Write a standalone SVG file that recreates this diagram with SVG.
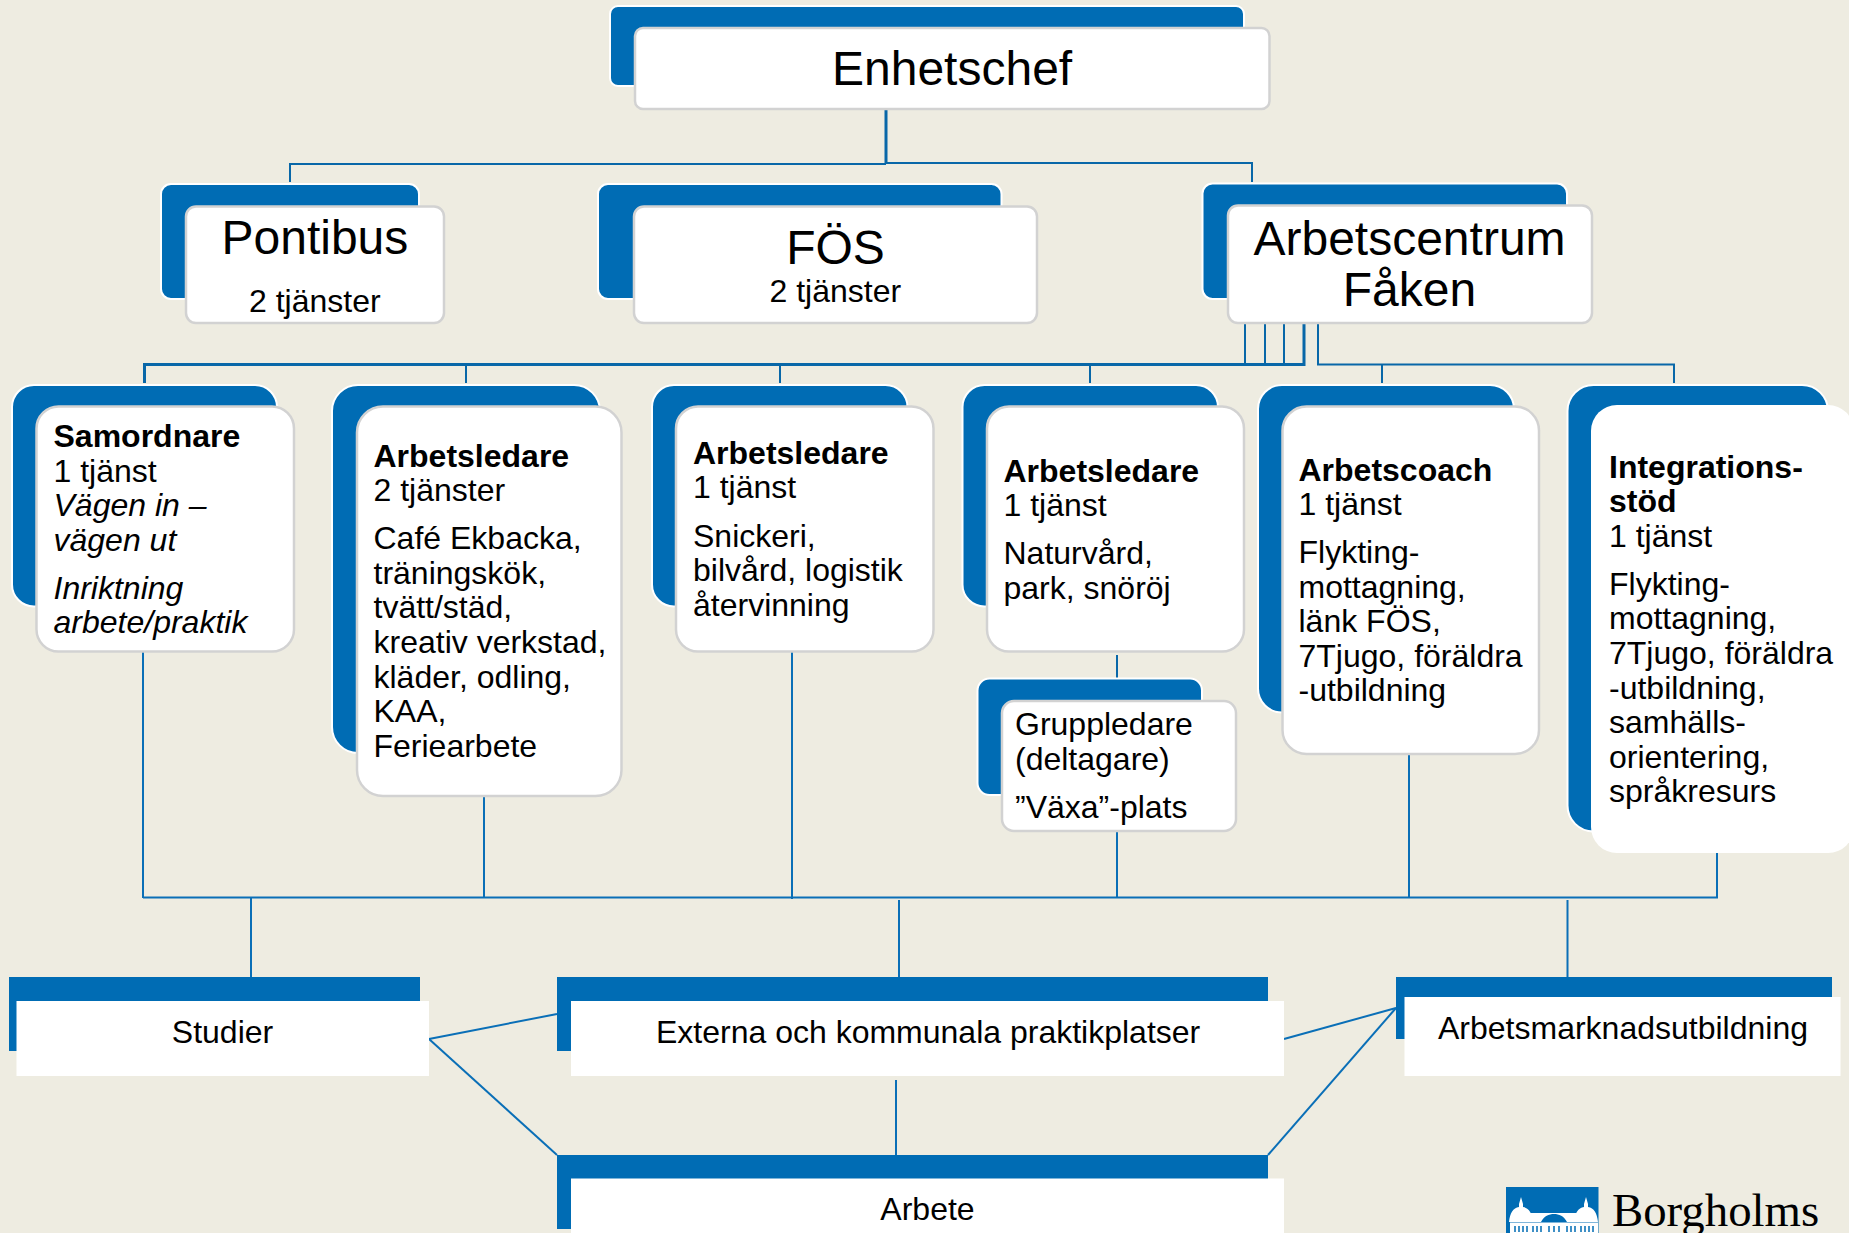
<svg xmlns="http://www.w3.org/2000/svg" width="1849" height="1233" viewBox="0 0 1849 1233">
<style>
text{font-family:"Liberation Sans",Arial,sans-serif;font-size:32px;fill:#000}
.big{font-size:48px}
.c{text-anchor:middle}
.b{font-weight:700}
.i{font-style:italic}
.back{fill:#006CB4;stroke:#fff;stroke-width:2}
.front{fill:#fff;stroke:#d2d2d2;stroke-width:2.5}
.sq{fill:#006CB4}
.sqw{fill:#fff}
#connectors line,#connectors polyline{stroke:#0867A8;stroke-width:2;fill:none}
#connectors .h{stroke-width:3}
#connectors .s{stroke:#0A6FB7;stroke-width:2}
.w{fill:#fff}
</style>
<rect width="1849" height="1233" fill="#EEECE1"/>
<g id="connectors">
<line class="h" x1="886" y1="109" x2="886" y2="164"/>
<polyline points="290,182 290,164 886,164"/>
<polyline points="886,163 1252,163 1252,182"/>
<polyline class="h" points="144.500,383 144.500,364.500 1304,364.500 1304,324"/>
<line x1="466" y1="364" x2="466" y2="383"/>
<line x1="780" y1="364" x2="780" y2="383"/>
<line x1="1090" y1="364" x2="1090" y2="383"/>
<line x1="1245" y1="324" x2="1245" y2="364"/>
<line x1="1265" y1="324" x2="1265" y2="364"/>
<line x1="1284" y1="324" x2="1284" y2="364"/>
<polyline points="1318,324 1318,364.500 1674,364.500 1674,383"/>
<line x1="1382" y1="364" x2="1382" y2="383"/>
<line x1="1117" y1="655" x2="1117" y2="679"/>
<line class="s" x1="143" y1="897.500" x2="1718" y2="897.500"/>
<line class="s" x1="143" y1="652" x2="143" y2="898"/>
<line class="s" x1="484" y1="797" x2="484" y2="898"/>
<line class="s" x1="792" y1="652" x2="792" y2="899"/>
<line class="s" x1="1117" y1="832" x2="1117" y2="898"/>
<line class="s" x1="1409" y1="755" x2="1409" y2="898"/>
<line class="s" x1="1717" y1="853" x2="1717" y2="898"/>
<line class="s" x1="251" y1="898" x2="251" y2="977"/>
<line class="s" x1="899" y1="900" x2="899" y2="977"/>
<line class="s" x1="1567.500" y1="900" x2="1567.500" y2="977"/>
<line class="s" x1="429" y1="1039" x2="557" y2="1014"/>
<line class="s" x1="429" y1="1039" x2="557" y2="1155"/>
<line class="s" x1="1284" y1="1039" x2="1396" y2="1008"/>
<line class="s" x1="1268" y1="1155" x2="1396" y2="1008"/>
<line class="s" x1="896" y1="1080" x2="896" y2="1155"/>
</g>
<g id="enhetschef">
<rect class="back" x="610" y="6" width="634" height="80" rx="8"/>
<rect class="front" x="635" y="28" width="634.500" height="81" rx="8"/>
<text class="big" x="832" y="85">Enhetschef</text>
</g>
<g id="pontibus">
<rect class="back" x="161" y="184" width="258" height="115" rx="10"/>
<rect class="front" x="186" y="206.500" width="258" height="116.500" rx="10"/>
<text class="big" x="221.500" y="254">Pontibus</text>
<text x="249" y="312">2 tjänster</text>
</g>
<g id="fos">
<rect class="back" x="598" y="184" width="403.500" height="115" rx="10"/>
<rect class="front" x="634" y="206.500" width="403" height="116.500" rx="10"/>
<text class="big c" x="835.500" y="264">FÖS</text>
<text x="769.500" y="302">2 tjänster</text>
</g>
<g id="arbetscentrum">
<rect class="back" x="1202.500" y="183.500" width="364.500" height="115.500" rx="10"/>
<rect class="front" x="1228" y="205.500" width="364" height="117.500" rx="10"/>
<text class="big c" x="1409.500" y="255">Arbetscentrum</text>
<text class="big c" x="1409.500" y="306">Fåken</text>
</g>
<g id="samordnare">
<rect class="back" x="12" y="385" width="265" height="221.500" rx="22"/>
<rect class="front" x="36.500" y="406.500" width="257.500" height="245" rx="22"/>
<text class="b" x="53.500" y="447">Samordnare</text>
<text x="53.500" y="481.500">1 tjänst</text>
<text class="i" x="53.500" y="516">Vägen in –</text>
<text class="i" x="53.500" y="551">vägen ut</text>
<text class="i" x="53.500" y="599">Inriktning</text>
<text class="i" x="53.500" y="633">arbete/praktik</text>
</g>
<g id="arbetsledare-cafe">
<rect class="back" x="332" y="385" width="268" height="368" rx="26"/>
<rect class="front" x="357" y="406.500" width="264.500" height="389.500" rx="26"/>
<text class="b" x="373.500" y="466.500">Arbetsledare</text>
<text x="373.500" y="501">2 tjänster</text>
<text x="373.500" y="549">Café Ekbacka,</text>
<text x="373.500" y="583.500">träningskök,</text>
<text x="373.500" y="618">tvätt/städ,</text>
<text x="373.500" y="653">kreativ verkstad,</text>
<text x="373.500" y="688">kläder, odling,</text>
<text x="373.500" y="722">KAA,</text>
<text x="373.500" y="756.500">Feriearbete</text>
</g>
<g id="arbetsledare-snickeri">
<rect class="back" x="652" y="385" width="255.500" height="221.500" rx="22"/>
<rect class="front" x="676" y="406.500" width="257.500" height="245" rx="22"/>
<text class="b" x="693" y="463.500">Arbetsledare</text>
<text x="693" y="498">1 tjänst</text>
<text x="693" y="546.500">Snickeri,</text>
<text x="693" y="580.500">bilvård, logistik</text>
<text x="693" y="616">återvinning</text>
</g>
<g id="arbetsledare-naturvard">
<rect class="back" x="962.500" y="385" width="255.500" height="221.500" rx="22"/>
<rect class="front" x="987" y="406.500" width="257" height="245" rx="22"/>
<text class="b" x="1003.500" y="482">Arbetsledare</text>
<text x="1003.500" y="515.500">1 tjänst</text>
<text x="1003.500" y="563.500">Naturvård,</text>
<text x="1003.500" y="598.500">park, snöröj</text>
</g>
<g id="gruppledare">
<rect class="back" x="977.500" y="678.500" width="224.500" height="116.500" rx="12"/>
<rect class="front" x="1002" y="701" width="234" height="130" rx="12"/>
<text x="1015" y="734.500">Gruppledare</text>
<text x="1015" y="770">(deltagare)</text>
<text x="1015" y="818">”Växa”-plats</text>
</g>
<g id="arbetscoach">
<rect class="back" x="1258" y="385" width="256" height="327.500" rx="24"/>
<rect class="front" x="1282.500" y="406.500" width="256.500" height="347.500" rx="24"/>
<text class="b" x="1298.500" y="480.500">Arbetscoach</text>
<text x="1298.500" y="515">1 tjänst</text>
<text x="1298.500" y="562.500">Flykting-</text>
<text x="1298.500" y="597.500">mottagning,</text>
<text x="1298.500" y="632">länk FÖS,</text>
<text x="1298.500" y="667">7Tjugo, föräldra</text>
<text x="1298.500" y="701">-utbildning</text>
</g>
<g id="integrationsstod">
<rect class="back" x="1567.500" y="385" width="260.500" height="446.500" rx="26"/>
<rect class="w" x="1591" y="405" width="263" height="448" rx="26"/>
<text class="b" x="1609" y="478">Integrations-</text>
<text class="b" x="1609" y="511.500">stöd</text>
<text x="1609" y="546.500">1 tjänst</text>
<text x="1609" y="595">Flykting-</text>
<text x="1609" y="629">mottagning,</text>
<text x="1609" y="663.500">7Tjugo, föräldra</text>
<text x="1609" y="699">-utbildning,</text>
<text x="1609" y="733">samhälls-</text>
<text x="1609" y="768">orientering,</text>
<text x="1609" y="801.500">språkresurs</text>
</g>
<g id="studier">
<rect class="sq" x="9" y="977" width="411" height="74"/>
<rect class="sqw" x="16.500" y="1001" width="412.500" height="75"/>
<text class="c" x="222.500" y="1042.500">Studier</text>
</g>
<g id="externa">
<rect class="sq" x="557" y="977" width="711" height="74"/>
<rect class="sqw" x="571" y="1001" width="713" height="75"/>
<text x="656" y="1042.500">Externa och kommunala praktikplatser</text>
</g>
<g id="arbetsmarknadsutbildning">
<rect class="sq" x="1396" y="977" width="436" height="62"/>
<rect class="sqw" x="1404.500" y="997" width="436" height="79"/>
<text x="1438" y="1039">Arbetsmarknadsutbildning</text>
</g>
<g id="arbete">
<rect class="sq" x="557" y="1155" width="711" height="74"/>
<rect class="sqw" x="571" y="1178.500" width="713" height="54.500"/>
<text class="c" x="927.500" y="1220">Arbete</text>
</g>
<g id="logo">
<rect class="sq" x="1506" y="1187" width="92.500" height="46"/>
<g fill="#fff">
<path d="M1521 1197l2 7v3c6 1 9 6 10 15h-24c1-9 4-14 10-15v-3z"/>
<path d="M1586 1197l2 7v3c6 1 9 6 10 15h-24c1-9 4-14 10-15v-3z"/>
<path d="M1530 1213h48l3 9h-14c-3-6-8-8-13-8s-10 2-13 8h-14z"/>
<rect x="1510" y="1222.500" width="88" height="10.500"/>
</g>
<g fill="#006CB4" opacity=".75">
<rect x="1514" y="1226" width="2" height="6"/><rect x="1518" y="1226" width="2" height="6"/><rect x="1522" y="1226" width="2" height="6"/><rect x="1526" y="1226" width="2" height="6"/>
<rect x="1532" y="1226" width="2" height="6"/><rect x="1536" y="1226" width="2" height="6"/><rect x="1540" y="1226" width="2" height="6"/>
<rect x="1548" y="1226" width="2" height="6"/><rect x="1553" y="1226" width="2" height="6"/><rect x="1558" y="1226" width="2" height="6"/>
<rect x="1566" y="1226" width="2" height="6"/><rect x="1570" y="1226" width="2" height="6"/><rect x="1574" y="1226" width="2" height="6"/>
<rect x="1580" y="1226" width="2" height="6"/><rect x="1584" y="1226" width="2" height="6"/><rect x="1588" y="1226" width="2" height="6"/><rect x="1592" y="1226" width="2" height="6"/>
</g>
<text x="1612" y="1226" style="font-family:'Liberation Serif','Times New Roman',serif;font-size:46.800px">Borgholms</text>
</g>
</svg>
